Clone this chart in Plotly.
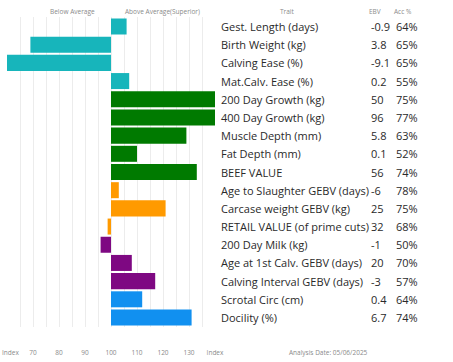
import plotly.graph_objects as go

traits = ["Gest. Length (days)", "Birth Weight (kg)", "Calving Ease (%)", "Mat.Calv. Ease (%)",
          "200 Day Growth (kg)", "400 Day Growth (kg)", "Muscle Depth (mm)", "Fat Depth (mm)",
          "BEEF VALUE", "Age to Slaughter GEBV (days)", "Carcase weight GEBV (kg)",
          "RETAIL VALUE (of prime cuts)", "200 Day Milk (kg)", "Age at 1st Calv. GEBV (days)",
          "Calving Interval GEBV (days)", "Scrotal Circ (cm)", "Docility (%)"]
ebv = ["-0.9", "3.8", "-9.1", "0.2", "50", "96", "5.8", "0.1", "56", "-6", "25", "32", "-1", "20", "-3", "0.4", "6.7"]
acc = ["64%", "65%", "65%", "55%", "75%", "77%", "63%", "52%", "74%", "78%", "75%", "68%", "50%", "70%", "57%", "64%", "74%"]
index_vals = [106, 69, 60, 107, 140, 140, 129, 110, 133, 103, 121, 98.7, 96, 108, 117, 112, 131]
groups = ["calving"] * 4 + ["growth"] * 5 + ["carcase"] * 3 + ["maternal"] * 3 + ["other"] * 2
group_colors = {"calving": "#17B5BB", "growth": "#007A00", "carcase": "#FF9A00",
                "maternal": "#7E0882", "other": "#1190F0"}
tick_vals = [60, 70, 80, 90, 100, 110, 120, 130, 140]
tick_text = ["\u00a0\u00a0\u00a0\u00a0Index", "70", "80", "90", "100", "110", "120", "130", "Index"]
base_index = 100

W, H = 453, 362
L, R, T, B = 7, 215, 17, 327

fig = go.Figure()
fig.add_trace(go.Bar(
    y=traits,
    x=[v - base_index for v in index_vals],
    base=base_index,
    orientation="h",
    marker=dict(color=[group_colors[g] for g in groups], line=dict(width=0)),
    width=0.88,
    hoverinfo="skip",
))

def px(xp):
    return (xp - L) / (R - L)

def py(yp):
    return 1 - (yp - T) / (B - T)

font_main = "Open Sans"
main = dict(size=11, color="#2a2a2a", family=font_main)
ann = []
for t, e, a in zip(traits, ebv, acc):
    ann.append(dict(x=px(219), y=t, xref="paper", yref="y", text=t, showarrow=False,
                    xanchor="left", font=main))
    ann.append(dict(x=px(369), y=t, xref="paper", yref="y", text=e, showarrow=False,
                    xanchor="left", font=main))
    ann.append(dict(x=px(394), y=t, xref="paper", yref="y", text=a, showarrow=False,
                    xanchor="left", font=main))

small = dict(size=6.5, color="#8a8a8a", family=font_main)
for txt, xx in [("Below Average", 72), ("Above Average(Superior)", 162), ("Trait", 287),
                ("EBV", 375), ("Acc %", 403)]:
    ann.append(dict(x=px(xx), y=py(11), xref="paper", yref="paper", text=txt, showarrow=False,
                    xanchor="center", yanchor="middle", font=small))
ann.append(dict(x=px(328), y=py(352), xref="paper", yref="paper", text="Analysis Date: 05/06/2025",
                showarrow=False, xanchor="center", yanchor="middle", font=small))

fig.update_layout(
    width=W, height=H,
    margin=dict(l=L, r=W - R, t=T, b=H - B, pad=0, autoexpand=False),
    paper_bgcolor="white", plot_bgcolor="white",
    showlegend=False,
    bargap=0.12,
    annotations=ann,
    xaxis=dict(range=[60, 140], tickvals=tick_vals, ticktext=tick_text, automargin=False,
               showgrid=True, gridcolor="#ececec", gridwidth=1,
               minor=dict(dtick=5, showgrid=True, gridcolor="#ececec"),
               zeroline=False, showline=False, ticks="", ticklabelstandoff=20,
               ticklabeloverflow="allow",
               tickfont=small, fixedrange=True),
    yaxis=dict(autorange="reversed", showticklabels=False, showgrid=False, automargin=False,
               zeroline=False, showline=False, ticks=""),
)
fig.write_html("out.html", config={"displayModeBar": False},
               post_script="document.body.style.margin='0';")
